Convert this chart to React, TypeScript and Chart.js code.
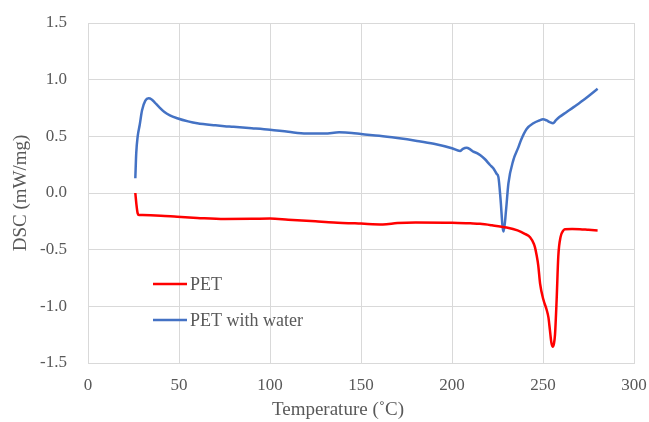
import React, { useEffect, useRef } from "react";
import { Chart, registerables } from "chart.js";

Chart.register(...registerables);

const seriesLabels = ["PET", "PET with water"];
const seriesColors = ["#FF0000", "#4472C4"];
const xTitle = "Temperature (˚C)";
const yTitle = "DSC (mW/mg)";
const xMin = 0;
const xMax = 300;
const xStep = 50;
const yMin = -1.5;
const yMax = 1.5;
const yStep = 0.5;

const petTemp = [
  26, 26.6, 27.3, 28, 30, 40, 49, 60, 75, 90, 100, 110, 125, 135, 150, 162, 170, 180, 200, 210,
  215.4, 222, 230, 236, 240, 242.9, 245, 245.6, 246.5, 247.4, 248.4, 250.2, 252, 253, 253.8,
  254.6, 255.3, 256, 256.6, 257.5, 258.4, 259.7, 261, 262, 266, 270.3, 275, 280,
];
const petDsc = [
  0.0, -0.1, -0.18, -0.195, -0.195, -0.2, -0.21, -0.22, -0.23, -0.228, -0.225, -0.235, -0.25,
  -0.26, -0.27, -0.277, -0.265, -0.26, -0.262, -0.268, -0.272, -0.285, -0.305, -0.33, -0.36,
  -0.39, -0.45, -0.48, -0.55, -0.64, -0.8, -0.94, -1.03, -1.1, -1.21, -1.32, -1.356, -1.33,
  -1.25, -0.94, -0.56, -0.385, -0.335, -0.32, -0.318, -0.32, -0.325, -0.33,
];

const waterTemp = [
  26, 26.5, 27.3, 28.4, 29.7, 31.5, 33.3, 35, 36.6, 39, 42, 45, 49, 55, 60, 70, 75, 80, 90, 100,
  110, 120, 130, 138, 145, 150, 160, 170, 180, 190, 200, 204.4, 206, 208, 210, 211.7, 214, 215.4,
  218, 220.9, 222.7, 224.5, 225.5, 226.7, 227.8, 228.4, 229.7, 231, 233.7, 236.4, 238, 241, 244.7,
  248, 250, 252, 253.7, 255.5, 257, 259, 263, 267, 273, 280,
];
const waterDsc = [
  0.13, 0.35, 0.5, 0.6, 0.73, 0.815, 0.835, 0.825, 0.8, 0.76, 0.715, 0.685, 0.66, 0.632, 0.615,
  0.597, 0.59, 0.585, 0.572, 0.558, 0.54, 0.525, 0.525, 0.535, 0.53, 0.52, 0.505, 0.485, 0.462,
  0.435, 0.395, 0.37, 0.39, 0.4, 0.385, 0.365, 0.35, 0.335, 0.3, 0.247, 0.218, 0.17, 0.14, -0.06,
  -0.3, -0.34, -0.15, 0.085, 0.29, 0.4, 0.47, 0.565, 0.615, 0.64, 0.65, 0.64, 0.625, 0.615, 0.64,
  0.67, 0.715, 0.76, 0.83, 0.92,
];

const FONT = "'Liberation Serif', 'Times New Roman', serif";
const TEXT = "#595959";
const GRID = "#D9D9D9";

const overlayPlugin = {
  id: "overlay",
  afterDraw(chart: any) {
    const ctx = chart.ctx;
    const area = chart.chartArea;
    ctx.save();
    const lx0 = area.left + 65;
    const lx1 = area.left + 99;
    const rows = [area.top + 261, area.top + 297];
    chart.data.datasets.forEach((ds: any, i: number) => {
      const y = rows[i];
      ctx.strokeStyle = ds.borderColor;
      ctx.lineWidth = 2.5;
      ctx.beginPath();
      ctx.moveTo(lx0, y);
      ctx.lineTo(lx1, y);
      ctx.stroke();
      ctx.fillStyle = TEXT;
      ctx.font = `18px ${FONT}`;
      ctx.textAlign = "left";
      ctx.textBaseline = "middle";
      ctx.fillText(ds.label, lx1 + 3, y + 1);
    });
    ctx.font = `19px ${FONT}`;
    ctx.fillStyle = TEXT;
    ctx.textAlign = "center";
    ctx.textBaseline = "middle";
    ctx.fillText(xTitle, (area.left + area.right) / 2 - 23, chart.height - 12);
    ctx.restore();
  },
};

export default function App() {
  const ref = useRef<HTMLCanvasElement | null>(null);
  useEffect(() => {
    document.body.style.margin = "0";
    const canvas = ref.current;
    if (!canvas) return;
    const chart = new Chart(canvas, {
      type: "line",
      data: {
        datasets: [
          {
            label: seriesLabels[0],
            data: petTemp.map((t, i) => ({ x: t, y: petDsc[i] })),
            borderColor: seriesColors[0],
            backgroundColor: seriesColors[0],
            borderWidth: 2.5,
            pointRadius: 0,
            cubicInterpolationMode: "monotone",
            fill: false,
          },
          {
            label: seriesLabels[1],
            data: waterTemp.map((t, i) => ({ x: t, y: waterDsc[i] })),
            borderColor: seriesColors[1],
            backgroundColor: seriesColors[1],
            borderWidth: 2.5,
            pointRadius: 0,
            cubicInterpolationMode: "monotone",
            fill: false,
          },
        ],
      },
      options: {
        animation: false,
        responsive: false,
        maintainAspectRatio: false,
        layout: { padding: { left: 0, top: 23, right: 15, bottom: 0 } },
        plugins: {
          legend: { display: false },
          tooltip: { enabled: false },
        },
        scales: {
          x: {
            type: "linear",
            min: xMin,
            max: xMax,
            ticks: {
              stepSize: xStep,
              color: TEXT,
              font: { family: FONT, size: 17 },
              padding: 12,
              maxRotation: 0,
            },
            grid: { color: GRID, lineWidth: 1, drawTicks: false },
            border: { color: GRID, width: 1 },
            title: { display: false, text: xTitle },
            afterFit(scale: any) {
              scale.height = 59;
              scale.paddingLeft = 0;
              scale.paddingRight = 0;
            },
          },
          y: {
            type: "linear",
            min: yMin,
            max: yMax,
            ticks: {
              stepSize: yStep,
              color: TEXT,
              font: { family: FONT, size: 17 },
              padding: 21,
              callback: (v: any) => Number(v).toFixed(1),
            },
            grid: { color: GRID, lineWidth: 1, drawTicks: false },
            border: { color: GRID, width: 1 },
            title: {
              display: true,
              text: yTitle,
              color: TEXT,
              font: { family: FONT, size: 19, weight: "normal" },
              padding: { top: 10, bottom: 0 },
            },
            afterFit(scale: any) {
              scale.width = 88;
              scale.paddingTop = 0;
              scale.paddingBottom = 0;
            },
          },
        },
      },
      plugins: [overlayPlugin],
    } as any);
    return () => chart.destroy();
  }, []);
  return (
    <div style={{ width: 649, height: 422 }}>
      <canvas ref={ref} width={649} height={422} style={{ width: 649, height: 422, display: "block" }} />
    </div>
  );
}
